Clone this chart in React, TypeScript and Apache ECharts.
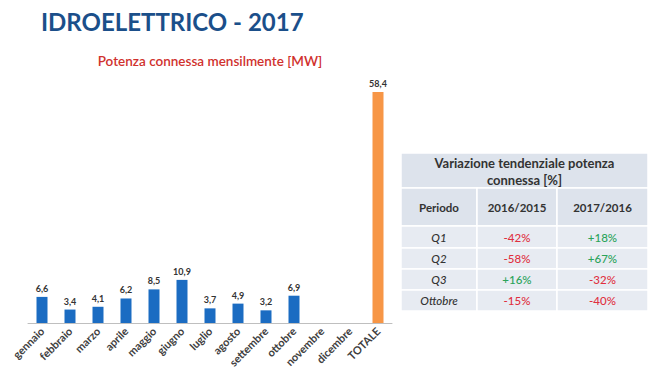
import React, { useEffect, useRef } from "react";
import * as echarts from "echarts";

const categories = ["gennaio", "febbraio", "marzo", "aprile", "maggio", "giugno", "luglio", "agosto", "settembre", "ottobre", "novembre", "dicembre", "TOTALE"];
const monthlyMW: (number | null)[] = [6.6, 3.4, 4.1, 6.2, 8.5, 10.9, 3.7, 4.9, 3.2, 6.9, null, null, 58.4];
const periods = ["Q1", "Q2", "Q3", "Ottobre"];
const var2016vs2015 = ["-42%", "-58%", "+16%", "-15%"];
const var2017vs2016 = ["+18%", "+67%", "-32%", "-40%"];
const tableTitle = ["Variazione tendenziale potenza", "connessa [%]"];
const tableHeaders = ["Periodo", "2016/2015", "2017/2016"];

const FONT = "Lato";
const BLUE = "#1b6cc2";
const ORANGE = "#f79646";
const RED = "#e0303f";
const GREEN = "#2aa35a";

function buildTable() {
  const colX = [401, 477, 557, 648];
  const titleY = [153, 188];
  const headY = [188, 226];
  const rowY = [226, 248, 269, 290, 311];
  const headBg = "#dde3ec";
  const rowBg = "#e7ebf2";
  const els: any[] = [];
  els.push({
    type: "rect",
    shape: { x: colX[0], y: titleY[0], width: colX[3] - colX[0], height: titleY[1] - titleY[0] },
    style: { fill: headBg, stroke: "#fff", lineWidth: 1.5 },
  });
  tableTitle.forEach((t, i) => {
    els.push({
      type: "text",
      x: (colX[0] + colX[3]) / 2,
      y: 163 + i * 17,
      style: { text: t, fill: "#333", font: `bold 13px ${FONT}`, align: "center", verticalAlign: "middle" },
    });
  });
  for (let c = 0; c < 3; c++) {
    els.push({
      type: "rect",
      shape: { x: colX[c], y: headY[0], width: colX[c + 1] - colX[c], height: headY[1] - headY[0] },
      style: { fill: headBg, stroke: "#fff", lineWidth: 1.5 },
    });
    els.push({
      type: "text",
      x: (colX[c] + colX[c + 1]) / 2,
      y: (headY[0] + headY[1]) / 2,
      style: { text: tableHeaders[c], fill: "#333", font: `bold 11.5px ${FONT}`, align: "center", verticalAlign: "middle" },
    });
  }
  periods.forEach((p, r) => {
    const vals = [p, var2016vs2015[r], var2017vs2016[r]];
    for (let c = 0; c < 3; c++) {
      els.push({
        type: "rect",
        shape: { x: colX[c], y: rowY[r], width: colX[c + 1] - colX[c], height: rowY[r + 1] - rowY[r] },
        style: { fill: rowBg, stroke: "#fff", lineWidth: 1.5 },
      });
      const v = vals[c];
      const color = c === 0 ? "#333" : v.startsWith("+") ? GREEN : RED;
      els.push({
        type: "text",
        x: (colX[c] + colX[c + 1]) / 2,
        y: (rowY[r] + rowY[r + 1]) / 2,
        style: { text: v, fill: color, font: `${c === 0 ? "italic " : ""}500 11.5px ${FONT}`, align: "center", verticalAlign: "middle" },
      });
    }
  });
  return els;
}

export default function App() {
  const ref = useRef<HTMLDivElement>(null);
  useEffect(() => {
    if (!ref.current) return;
    const chart = echarts.init(ref.current, undefined, { renderer: "svg" });
    const last = categories.length - 1;
    chart.setOption({
      animation: false,
      backgroundColor: "#fff",
      title: [
        {
          text: "IDROELETTRICO - 2017",
          left: 36,
          top: 4,
          textStyle: { fontFamily: FONT, fontWeight: "bold", fontSize: 24, color: "#1b4f8a" },
        },
        {
          text: "Potenza connessa mensilmente [MW]",
          left: 205,
          textAlign: "center",
          top: 49,
          textStyle: { fontFamily: FONT, fontWeight: 600, fontSize: 13.5, color: "#d0312d" },
        },
      ],
      grid: { left: 28, right: 258, top: 92, bottom: 54 },
      xAxis: {
        type: "category",
        data: categories,
        axisLine: { lineStyle: { color: "#bfbfbf", width: 1 } },
        axisTick: { show: false },
        axisLabel: {
          interval: 0,
          rotate: 45,
          margin: 6,
          fontFamily: FONT,
          fontWeight: "bold",
          fontSize: 11,
          color: "#404040",
        },
      },
      yAxis: { type: "value", min: 0, max: 58.4, show: false, splitLine: { show: false } },
      series: [
        {
          type: "bar",
          barWidth: 11,
          data: monthlyMW.map((v, i) => ({
            value: v,
            itemStyle: { color: i === last ? ORANGE : BLUE },
          })),
          label: {
            show: true,
            position: "top",
            distance: 4,
            fontFamily: FONT,
            fontWeight: "bold",
            fontSize: 9,
            color: "#333",
            formatter: (p: any) => (p.value == null ? "" : String(p.value.toFixed(1)).replace(".", ",")),
          },
        },
      ],
      graphic: buildTable(),
    });
    return () => chart.dispose();
  }, []);
  return <div ref={ref} style={{ position: "fixed", left: 0, top: 0, width: 650, height: 377 }} />;
}
